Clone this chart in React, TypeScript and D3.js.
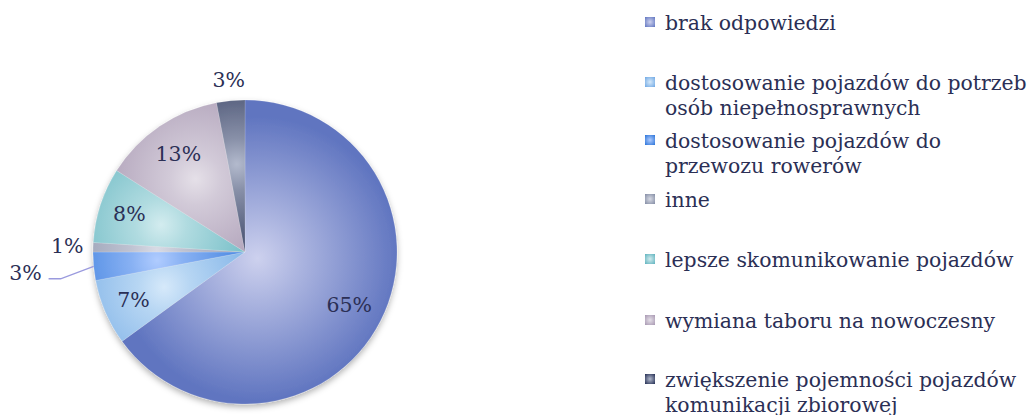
import React from "react";
import * as d3 from "d3";

const categories = [
  "brak odpowiedzi",
  "dostosowanie pojazdów do potrzeb osób niepełnosprawnych",
  "dostosowanie pojazdów do przewozu rowerów",
  "inne",
  "lepsze skomunikowanie pojazdów",
  "wymiana taboru na nowoczesny",
  "zwiększenie pojemności pojazdów komunikacji zbiorowej",
];
const values = [65, 7, 3, 1, 8, 13, 3];
const legendLines = [
  ["brak odpowiedzi"],
  ["dostosowanie pojazdów do potrzeb", "osób niepełnosprawnych"],
  ["dostosowanie pojazdów do", "przewozu rowerów"],
  ["inne"],
  ["lepsze skomunikowanie pojazdów"],
  ["wymiana taboru na nowoczesny"],
  ["zwiększenie pojemności pojazdów", "komunikacji zbiorowej"],
];
const baseColors = ["#6075c0", "#6fa8e4", "#2a73d8", "#838ca4", "#5fb3be", "#a797b1", "#232d52"];
const lightColors = ["#cdd1ee", "#d6e9fa", "#b0ccff", "#d8dbe5", "#d3ecef", "#e5e0e8", "#b3bacd"];
// label placement: radius factor (inside vs outside)
const labelRadius = [0.77, 0.8, 1.45, 1.17, 0.8, 0.78, 1.14];

const W = 1035;
const H = 415;
const cx = 245;
const cy = 252;
const R = 152;
const legendX = 645;
const legendTextX = 665;
const legendBaselines = [30, 90, 148, 207, 267, 328, 387];
const lineGap = 25;
const textColor = "#2b2f55";
const font = "'DejaVu Serif', 'Liberation Serif', serif";

export default function App() {
  const pie = d3.pie<number>().sort(null).value((d) => d);
  const arcs = pie(values);
  const arc = d3.arc<d3.PieArcDatum<number>>().innerRadius(0).outerRadius(R);

  const mid = (a: d3.PieArcDatum<number>) => (a.startAngle + a.endAngle) / 2;
  const polar = (ang: number, r: number) => [Math.sin(ang) * r, -Math.cos(ang) * r];

  return (
    <svg width={W} height={H} style={{ position: "absolute", left: 0, top: 0, display: "block" }}>
      <defs>
        <filter id="shadow" x="-20%" y="-20%" width="140%" height="140%">
          <feDropShadow dx="0" dy="3" stdDeviation="3" floodColor="#000" floodOpacity="0.3" />
        </filter>
        {arcs.map((a, i) => {
          const span = a.endAngle - a.startAngle;
          const big = span > Math.PI;
          const [hx, hy] = polar(mid(a), big ? 14 : R * 0.58);
          return (
            <radialGradient
              key={i}
              id={`sg${i}`}
              gradientUnits="userSpaceOnUse"
              cx={hx}
              cy={hy}
              r={big ? R * 1.1 : R * 0.85}
            >
              <stop offset="0" stopColor={lightColors[i]} />
              <stop offset={big ? 0.25 : 0.2} stopColor={d3.interpolateRgb(lightColors[i], baseColors[i])(0.3)} />
              <stop offset={big ? 0.85 : 0.9} stopColor={baseColors[i]} />
              <stop offset="1" stopColor={baseColors[i]} />
            </radialGradient>
          );
        })}
        {categories.map((_, i) => (
          <radialGradient key={i} id={`lg${i}`} cx="0.5" cy="0.5" r="0.7">
            <stop offset="0" stopColor={lightColors[i]} />
            <stop offset="1" stopColor={baseColors[i]} />
          </radialGradient>
        ))}
      </defs>

      <g transform={`translate(${cx},${cy})`}>
        <g filter="url(#shadow)">
          {arcs.map((a, i) => (
            <path key={i} d={arc(a) || ""} fill={`url(#sg${i})`} stroke="#ffffff" strokeOpacity={0.25} strokeWidth={0.6} />
          ))}
        </g>
        {(() => {
          const a = arcs[2];
          const [x0, y0] = polar(mid(a), R);
          const [lx, ly] = polar(mid(a), R * labelRadius[2]);
          const ex = lx + 23;
          const ey = ly + 6;
          return (
            <path
              d={`M${x0},${y0} L${ex + 12},${ey} L${ex},${ey}`}
              fill="none"
              stroke="#9a9ade"
              strokeWidth={1.3}
            />
          );
        })()}
        {arcs.map((a, i) => {
          const [x, y] = polar(mid(a), R * labelRadius[i]);
          return (
            <text
              key={i}
              x={x}
              y={y}
              textAnchor="middle"
              dominantBaseline="central"
              fontFamily={font}
              fontSize={20.5}
              fill={textColor}
            >
              {`${values[i]}%`}
            </text>
          );
        })}
      </g>

      <g>
        {legendLines.map((lines, i) => (
          <g key={i}>
            <rect x={legendX} y={legendBaselines[i] - 13} width={10} height={10} fill={`url(#lg${i})`} />
            {lines.map((ln, j) => (
              <text
                key={j}
                x={legendTextX}
                y={legendBaselines[i] + j * lineGap}
                fontFamily={font}
                fontSize={20.4}
                fill={textColor}
              >
                {ln}
              </text>
            ))}
          </g>
        ))}
      </g>
    </svg>
  );
}
